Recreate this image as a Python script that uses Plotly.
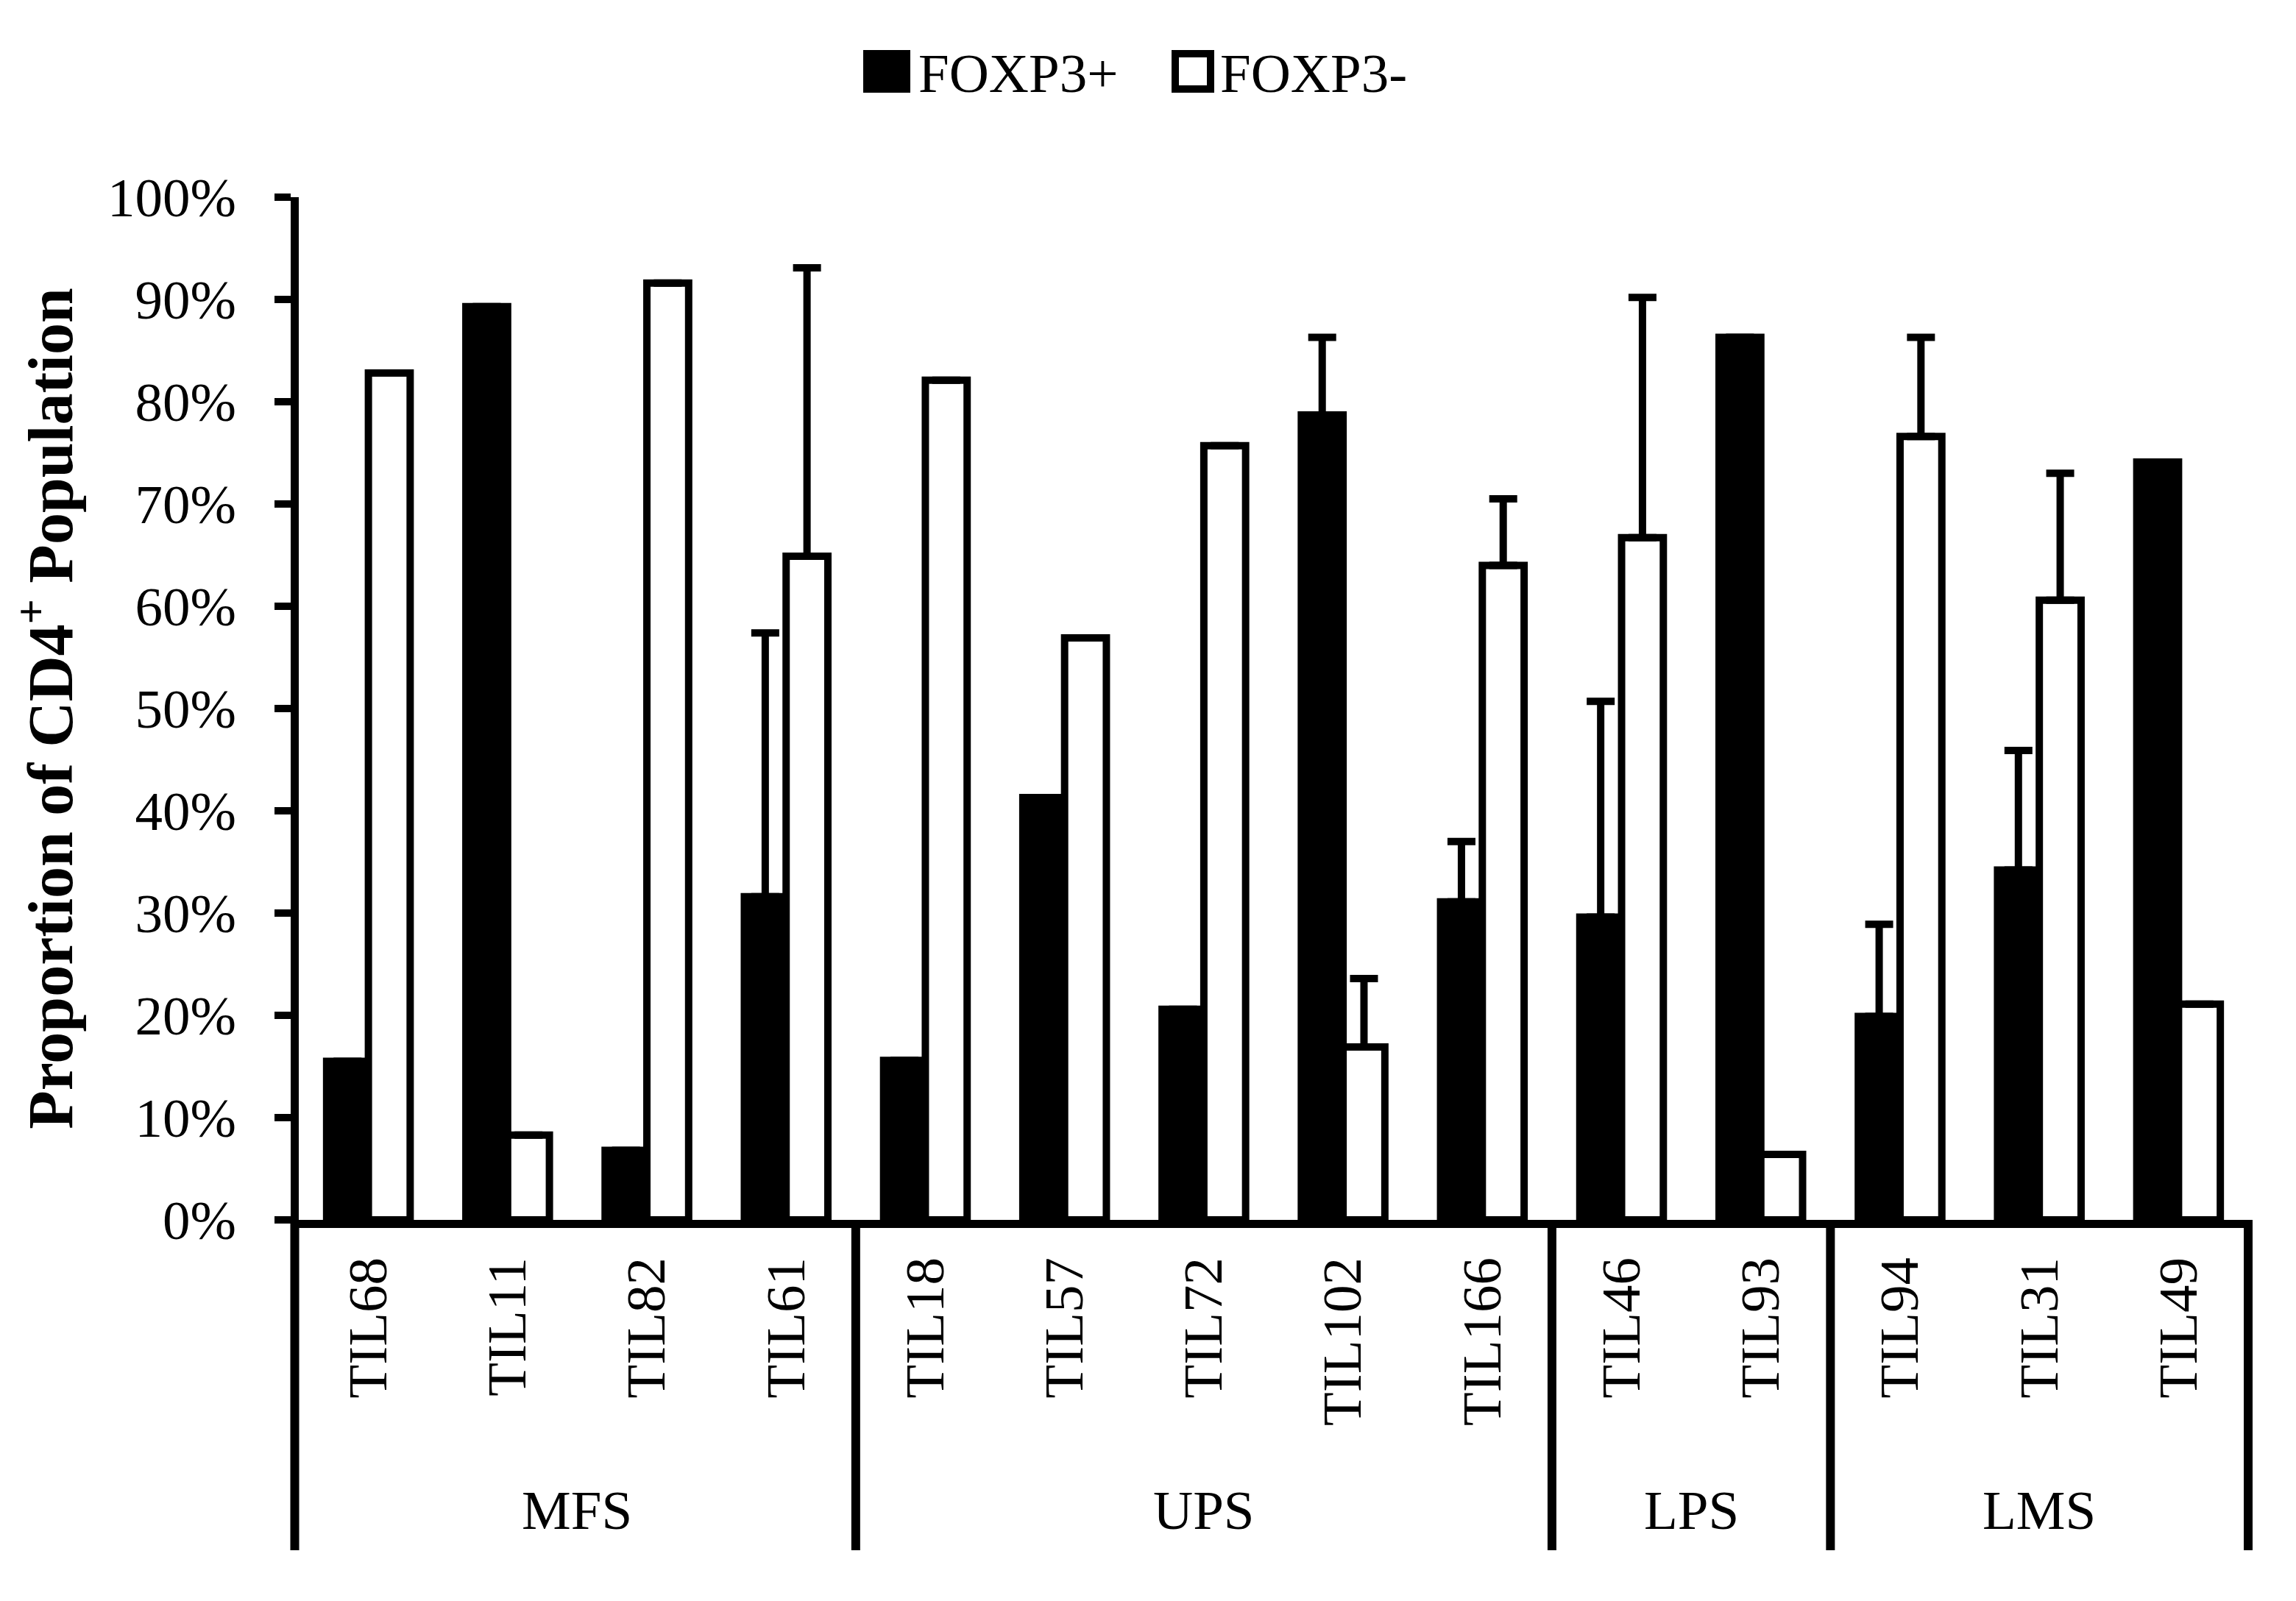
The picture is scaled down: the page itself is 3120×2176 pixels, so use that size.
import plotly.graph_objects as go

# ---------------- data ----------------
categories = ["TIL68", "TIL11", "TIL82", "TIL61",
              "TIL18", "TIL57", "TIL72", "TIL102", "TIL166",
              "TIL46", "TIL93",
              "TIL94", "TIL31", "TIL49"]
groups = ["MFS"] * 4 + ["UPS"] * 5 + ["LPS"] * 2 + ["LMS"] * 3

foxp3_pos = [15.5, 89.3, 6.8, 31.6,
             15.6, 41.3, 20.6, 78.7, 31.1,
             29.6, 86.3,
             19.9, 34.2, 74.1]
foxp3_pos_err = [0, 0, 0, 25.8,
                 0, 0, 0, 7.6, 5.9,
                 21.1, 0,
                 9.0, 11.7, 0]

foxp3_neg = [82.8, 8.3, 91.6, 64.9,
             82.1, 56.9, 75.7, 16.9, 64.0,
             66.7, 6.4,
             76.6, 60.6, 21.1]
foxp3_neg_err = [0, 0, 0, 28.2,
                 0, 0, 0, 6.7, 6.5,
                 23.5, 0,
                 9.7, 12.4, 0]

y_ticks = [i / 10 for i in range(11)]
series_names = ["FOXP3+", "FOXP3-"]

# ---------------- figure geometry ----------------
OFF = 8                      # default page body margin
W, H = 3120 - 2 * OFF, 2176 - 2 * OFF
PLOT_L, PLOT_R, PLOT_T, PLOT_B = 406 - OFF, 3055 - OFF, 268 - OFF, 1658 - OFF
L, R, T, B = PLOT_L, W - PLOT_R, PLOT_T, H - PLOT_B
PW, PH = PLOT_R - PLOT_L, PLOT_B - PLOT_T

FONT = "Palatino Linotype, Book Antiqua, Liberation Serif, serif"
FS = 75
LW = 11


def px_x(px):
    """reference-image x pixel -> paper coordinate"""
    return (px - OFF - PLOT_L) / PW


def px_y(py):
    """reference-image y pixel -> paper coordinate"""
    return (PLOT_B - (py - OFF)) / PH


fig = go.Figure()
fig.add_trace(go.Bar(
    x=categories, y=[v / 100 for v in foxp3_pos], name=series_names[0],
    marker=dict(color="black", line=dict(color="black", width=10)),
    error_y=dict(type="data", symmetric=False,
                 array=[e / 100 for e in foxp3_pos_err],
                 arrayminus=[0] * len(categories),
                 color="black", thickness=10, width=19),
    showlegend=False,
))
fig.add_trace(go.Bar(
    x=categories, y=[v / 100 for v in foxp3_neg], name=series_names[1],
    marker=dict(color="white", line=dict(color="black", width=10)),
    error_y=dict(type="data", symmetric=False,
                 array=[e / 100 for e in foxp3_neg_err],
                 arrayminus=[0] * len(categories),
                 color="black", thickness=10, width=19),
    showlegend=False,
))

shapes = []
annotations = []

# group dividers and labels (category boundaries mapped to paper space)
n = len(categories)
bounds = [-0.5]
for i in range(1, len(groups)):
    if groups[i] != groups[i - 1]:
        bounds.append(i - 0.5)
bounds.append(n - 0.5)
for k, b in enumerate(bounds):
    xp = (b + 0.5) / n
    if k == 0:
        xp -= (LW / 2) / PW      # align with the y-axis line
    shapes.append(dict(type="line", xref="paper", yref="paper",
                       x0=xp, x1=xp, y0=0, y1=px_y(2107),
                       line=dict(color="black", width=12)))
for a, b in zip(bounds[:-1], bounds[1:]):
    name = groups[int(a + 0.5)]
    annotations.append(dict(xref="x", yref="paper", x=(a + b) / 2, y=px_y(2052),
                            text=name, showarrow=False, xanchor="center",
                            yanchor="middle",
                            font=dict(family=FONT, size=FS, color="black")))

# manual legend (large swatches)
legend_items = [
    (series_names[0], "black", 1178, 1232, 1246),
    (series_names[1], "white", 1597, 1645, 1656),
]
for name, fill, x0, x1, tx in legend_items:
    shapes.append(dict(type="rect", xref="paper", yref="paper",
                       x0=px_x(x0), x1=px_x(x1), y0=px_y(121), y1=px_y(73),
                       fillcolor=fill, line=dict(color="black", width=10)))
    annotations.append(dict(xref="paper", yref="paper", x=px_x(tx), y=px_y(99),
                            text=name, showarrow=False, xanchor="left",
                            yanchor="middle",
                            font=dict(family=FONT, size=FS, color="black")))

fig.update_layout(
    width=W, height=H,
    margin=dict(l=L, r=R, t=T, b=B, autoexpand=False),
    paper_bgcolor="white", plot_bgcolor="white",
    barmode="group", bargap=0.4, bargroupgap=0,
    font=dict(family=FONT, size=FS, color="black"),
    shapes=shapes, annotations=annotations,
    showlegend=False,
)
fig.update_xaxes(
    type="category", range=[-0.5, n - 0.5],
    showline=True, linewidth=LW, linecolor="black",
    showgrid=False, zeroline=False,
    ticks="", tickangle=-90, ticklabelstandoff=10,
    tickfont=dict(family=FONT, size=FS, color="black"),
)
fig.update_yaxes(
    range=[0, 1], tickvals=y_ticks, tickformat=".0%",
    showline=True, linewidth=LW, linecolor="black",
    showgrid=False, zeroline=False,
    ticks="outside", ticklen=22, tickwidth=10, tickcolor="black",
    ticklabelstandoff=37,
    tickfont=dict(family=FONT, size=FS, color="black"),
    title=dict(text="Proportion of CD4<sup>+</sup> Population",
               font=dict(family=FONT, size=86, color="black", weight="bold"),
               standoff=48),
)

fig.write_html("out.html")
